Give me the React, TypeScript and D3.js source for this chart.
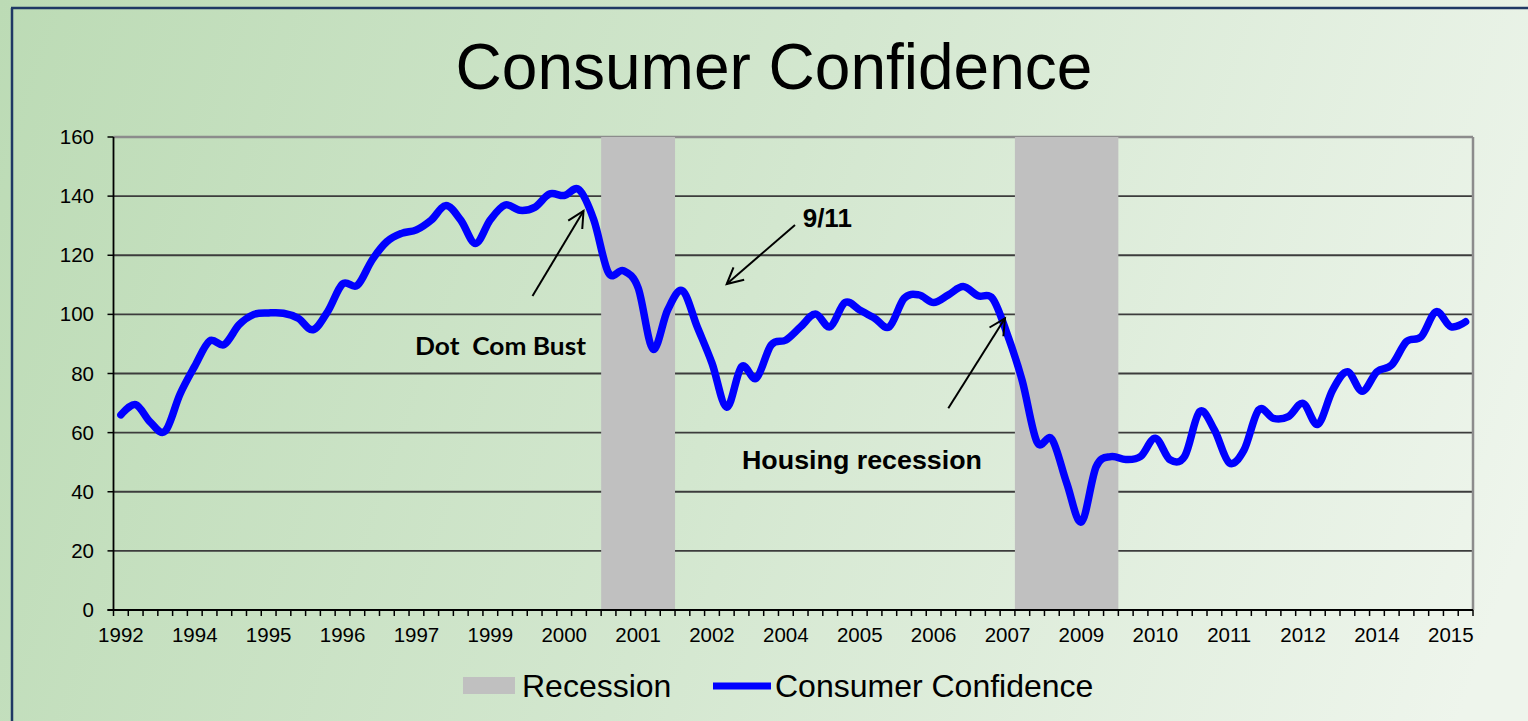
import React from 'react';
import * as d3 from 'd3';

// Consumer confidence, one value per category (quarter)
const confidence: number[] = [
  66, 69.5, 63.5, 60.5, 73, 82.5, 91, 89.8, 96.5, 100,
  100.5, 100.4, 98.7, 94.8, 101, 110.3, 109.8, 118.4, 124.6, 127.4,
  128.6, 131.9, 136.8, 131.9, 124, 132, 137, 135.2, 136.2, 140.7,
  140.2, 142.2, 132, 114, 114.8, 109, 88.3, 101.5, 108, 95.8,
  83.5, 68.6, 82.3, 78.4, 89.6, 91.3, 95.8, 100.1, 95.8, 104,
  101.5, 98.7, 95.8, 105.4, 106.6, 104, 106.6, 109.4, 106.3, 105.3,
  93, 77.5, 56.8, 57.8, 43, 29.8, 48.5, 51.9, 50.9, 51.9,
  58.1, 50.8, 52.1, 67.1, 60.9, 49.8, 54.1, 67.7, 64.8, 65.4,
  69.9, 62.8, 74.4, 80.6, 74, 80.6, 82.9, 90.8, 92.5, 100.9,
  95.8, 97.5,
];

// Tick labels shown every 5th category
const yearLabels: string[] = [
  '1992', '1994', '1995', '1996', '1997', '1999', '2000', '2001', '2002', '2004',
  '2005', '2006', '2007', '2009', '2010', '2011', '2012', '2014', '2015',
];
const labelEvery = 5;

// Recession periods as [first, last] category index
const recessions: [number, number][] = [
  [33, 37],
  [61, 67],
];
const recessionValue = 160;

const yTicks: number[] = [0, 20, 40, 60, 80, 100, 120, 140, 160];

function Arrow({ x1, y1, x2, y2 }: { x1: number; y1: number; x2: number; y2: number }) {
  const ang = Math.atan2(y2 - y1, x2 - x1);
  const len = 18;
  const spread = (27 * Math.PI) / 180;
  const a1 = ang + Math.PI - spread;
  const a2 = ang + Math.PI + spread;
  const d = `M${x2 + len * Math.cos(a1)},${y2 + len * Math.sin(a1)}L${x2},${y2}L${x2 + len * Math.cos(a2)},${y2 + len * Math.sin(a2)}`;
  return (
    <g stroke="#000" strokeWidth={2} fill="none">
      <line x1={x1} y1={y1} x2={x2} y2={y2} />
      <path d={d} />
    </g>
  );
}

export default function App() {
  const W = 1528;
  const H = 721;
  const left = 113.5;
  const right = 1473;
  const top = 137;
  const bottom = 610;

  const idx = d3.range(confidence.length);
  const x = d3.scaleBand<number>().domain(idx).range([left, right]).paddingInner(0).paddingOuter(0);
  const y = d3.scaleLinear().domain([0, 160]).range([bottom, top]);
  const bw = x.bandwidth();
  const cx = (i: number) => (x(i) as number) + bw / 2;

  const linePath = d3
    .line<number>()
    .x((_, i) => cx(i))
    .y((d) => y(d))
    .curve(d3.curveCardinal.tension(0))(confidence) as string;

  const font = "'Liberation Sans', Arial, sans-serif";

  return (
    <svg
      width={W}
      height={H}
      style={{ position: 'absolute', left: 0, top: 0 }}
      xmlns="http://www.w3.org/2000/svg"
    >
      <defs>
        <linearGradient id="bg" gradientUnits="userSpaceOnUse" x1={0} y1={0} x2={1528} y2={520}>
          <stop offset="0" stopColor="#bcdbb5" />
          <stop offset="0.5" stopColor="#d3e7cf" />
          <stop offset="1" stopColor="#eef5ec" />
        </linearGradient>
      </defs>
      <rect x={0} y={0} width={W} height={H} fill="url(#bg)" />
      {/* outer frame */}
      <line x1={11} y1={8} x2={W} y2={8} stroke="#1f3864" strokeWidth={2.5} />
      <line x1={12} y1={8} x2={12} y2={H} stroke="#1f3864" strokeWidth={2.5} />

      {/* title */}
      <text x={774} y={89} textAnchor="middle" fontFamily={font} fontSize={64} fill="#000">
        Consumer Confidence
      </text>

      {/* gridlines */}
      {yTicks.filter((t) => t > 0 && t < 160).map((t) => (
        <line key={t} x1={left} x2={right} y1={y(t)} y2={y(t)} stroke="#3c3c3c" strokeWidth={1.8} />
      ))}
      {/* plot border top/right */}
      <line x1={left} x2={right} y1={top} y2={top} stroke="#8c8c8c" strokeWidth={2.5} />
      <line x1={right} x2={right} y1={top} y2={bottom} stroke="#8c8c8c" strokeWidth={2.5} />

      {/* recession bars */}
      {recessions.map(([a, b], k) => (
        <rect
          key={k}
          x={x(a) as number}
          width={(x(b) as number) + bw - (x(a) as number)}
          y={y(recessionValue)}
          height={y(0) - y(recessionValue)}
          fill="#c0c0c0"
        />
      ))}

      {/* axes */}
      <line x1={left} x2={left} y1={top} y2={bottom} stroke="#000" strokeWidth={1.8} />
      <line x1={left - 6} x2={right} y1={bottom} y2={bottom} stroke="#000" strokeWidth={1.8} />
      {yTicks.map((t) => (
        <g key={t}>
          <line x1={left - 6} x2={left} y1={y(t)} y2={y(t)} stroke="#000" strokeWidth={1.5} />
          <text x={94} y={y(t) + 7} textAnchor="end" fontFamily={font} fontSize={20.5} fill="#000">
            {t}
          </text>
        </g>
      ))}
      {d3.range(confidence.length + 1).map((i) => {
        const xx = left + i * bw;
        return <line key={i} x1={xx} x2={xx} y1={bottom} y2={bottom + 6} stroke="#000" strokeWidth={1.5} />;
      })}
      {yearLabels.map((lab, k) => (
        <text key={lab + k} x={cx(k * labelEvery)} y={642} textAnchor="middle" fontFamily={font} fontSize={20.5} fill="#000">
          {lab}
        </text>
      ))}

      {/* data line */}
      <path d={linePath} fill="none" stroke="#0000ff" strokeWidth={7.5} strokeLinejoin="round" strokeLinecap="round" />

      {/* annotations */}
      <Arrow x1={532.5} y1={296} x2={583.5} y2={211} />
      <Arrow x1={795} y1={225} x2={726.7} y2={284} />
      <Arrow x1={948.3} y1={408.3} x2={1005} y2={318.3} />
      <text x={415} y={355} fontFamily="Lato, 'Open Sans', sans-serif" fontWeight="bold" fontSize={25} textLength={171} lengthAdjust="spacingAndGlyphs" fill="#000" style={{ whiteSpace: 'pre' }}>
        {'Dot  Com Bust'}
      </text>
      <text x={802.7} y={227} fontFamily={font} fontWeight="bold" fontSize={26} fill="#000">
        9/11
      </text>
      <text x={742} y={469} fontFamily={font} fontWeight="bold" fontSize={26} textLength={240} lengthAdjust="spacingAndGlyphs" fill="#000">
        Housing recession
      </text>

      {/* legend */}
      <rect x={463} y={677} width={52} height={17} fill="#c0c0c0" />
      <text x={522} y={697} fontFamily={font} fontSize={32} fill="#000">
        Recession
      </text>
      <line x1={713} x2={771} y1={686} y2={686} stroke="#0000ff" strokeWidth={7} />
      <text x={775} y={697} fontFamily={font} fontSize={32} fill="#000">
        Consumer Confidence
      </text>
    </svg>
  );
}
